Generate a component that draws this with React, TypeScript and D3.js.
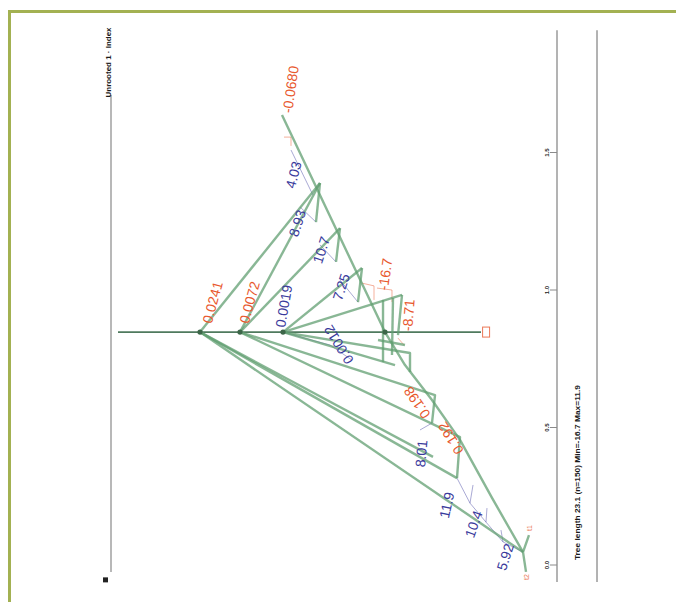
import React from "react";
import * as d3 from "d3";

const W = 676;
const H = 602;

// Axis ticks along the position axis
const posTicks = [0, 0.5, 1, 1.5];
const posTickLabels = ["0.0", "0.5", "1.0", "1.5"];

// Tree nodes: [id, score, position]
const nodes: [string, number, number][] = [
  ["A", 19.96, 0.847],
  ["B", 28.92, 0.847],
  ["C", 38.57, 0.847],
  ["D", 61.43, 0.847],
  ["T", 38.34, 1.636],
  ["P1", 46.86, 1.389],
  ["Q1", 45.96, 1.247],
  ["P2", 51.35, 1.225],
  ["Q2", 50.45, 1.102],
  ["P3", 56.28, 1.08],
  ["Q3", 55.38, 0.956],
  ["P4", 65.25, 0.982],
  ["Q4", 64.35, 0.836],
  ["S1", 65.92, 0.727],
  ["S2", 71.97, 0.6],
  ["S3", 78.25, 0.455],
  ["S4", 85.43, 0.244],
  ["E", 92.38, 0.047],
  ["L1", 67.04, 0.771],
  ["L1d", 67.04, 0.702],
  ["L2", 72.65, 0.618],
  ["L2d", 71.97, 0.516],
  ["L3", 78.25, 0.465],
  ["L3d", 77.58, 0.316],
  ["L4", 63.68, 0.727],
  ["L5", 72.2, 0.393],
  ["Eu", 93.72, 0.109],
  ["Ed", 93.05, -0.025],
  ["K1a", 60.99, 0.964],
  ["K1b", 60.99, 0.738],
  ["K2a", 63.23, 0.971],
  ["K2b", 63.0, 0.764],
  ["K3a", 59.87, 0.818],
  ["K3b", 65.92, 0.8],
  ["b1a", 40.36, 1.509],
  ["b1b", 45.29, 1.345],
  ["b2a", 42.38, 1.302],
  ["b3a", 46.86, 1.164],
  ["b4a", 51.35, 1.036],
  ["b5a", 39.01, 0.844],
  ["b5b", 49.1, 0.8],
  ["b5c", 54.04, 0.745],
  ["b6a", 69.28, 0.491],
  ["c1", 80.49, 0.225],
  ["c2", 84.08, 0.156],
  ["c3", 87.89, 0.084],
  ["c1o", 81.17, 0.291],
  ["c2o", 84.3, 0.207],
  ["c3o", 87.44, 0.127],
  ["o1a", 38.79, 1.556],
  ["o1b", 40.36, 1.556],
  ["o1c", 40.36, 1.524],
  ["o2a", 56.28, 1.025],
  ["o2b", 58.97, 1.015],
  ["o2c", 58.97, 0.964],
  ["o3a", 59.64, 1.007],
  ["o3b", 63.0, 1.0],
  ["o3c", 63.0, 0.956],
  ["o4a", 64.35, 0.825],
  ["o4b", 65.7, 0.8],
];

// Branches (thick), connectors (thin blue) and brackets (thin orange)
const branches: string[][] = [
  ["T", "D", "S1", "S2", "S3", "S4", "E"],
  ["A", "P1"],
  ["B", "P1"],
  ["B", "P2"],
  ["C", "P3"],
  ["C", "P4"],
  ["P1", "Q1"],
  ["P2", "Q2"],
  ["P3", "Q3"],
  ["P4", "Q4"],
  ["C", "L1", "L1d"],
  ["C", "L4"],
  ["B", "L2", "L2d"],
  ["B", "L3", "L3d"],
  ["A", "L5"],
  ["A", "L3d"],
  ["A", "E"],
  ["Eu", "E", "Ed"],
  ["K1a", "K1b"],
  ["K2a", "K2b"],
  ["K3a", "K3b"],
];
const connectors: string[][] = [
  ["b1a", "b1b"],
  ["b2a", "Q1"],
  ["b3a", "Q2"],
  ["b4a", "Q3"],
  ["b5a", "b5b", "b5c"],
  ["b6a", "L2d"],
  ["L3d", "c1", "c2", "c3", "E"],
  ["c1o", "c1"],
  ["c2o", "c2"],
  ["c3o", "c3"],
];
const brackets: string[][] = [
  ["o1a", "o1b", "o1c"],
  ["o2a", "o2b", "o2c"],
  ["o3a", "o3b", "o3c"],
  ["o4a", "o4b"],
];
const hubs = ["A", "B", "C", "D"];

// Branch values: [text, score, position, group]
const branchLabels: [string, number, number, "pos" | "neg"][] = [
  ["-0.0680", 39.5, 1.644, "neg"],
  ["4.03", 40.13, 1.371, "pos"],
  ["8.93", 40.81, 1.196, "pos"],
  ["10.7", 46.19, 1.098, "pos"],
  ["7.25", 50.67, 0.964, "pos"],
  ["0.0019", 37.89, 0.865, "pos"],
  ["0.0072", 29.82, 0.88, "neg"],
  ["0.0241", 21.52, 0.88, "neg"],
  ["-16.7", 60.99, 1.0, "neg"],
  ["-8.71", 66.37, 0.851, "neg"],
  ["0.0012", 53.59, 0.735, "pos"],
  ["0.198", 70.85, 0.538, "neg"],
  ["0.192", 78.25, 0.407, "neg"],
  ["8.01", 69.28, 0.356, "pos"],
  ["11.9", 74.66, 0.171, "pos"],
  ["10.4", 80.27, 0.102, "pos"],
  ["5.92", 87.44, -0.018, "pos"],
];
const labelAngles = [-82, -75, -72, -72, -72, -80, -75, -75, -82, -85, -122, -125, -122, -85, -78, -70, -72];

const tipLabels = ["t1", "t2"];

const hScale = d3.scaleLinear().domain([0, 100]).range([111, 557]);
const vScale = d3.scaleLinear().domain([0, 1.5]).range([565, 152.5]);

const nodeMap = new Map(nodes.map(([id, h, v]) => [id, [h, v] as [number, number]]));
const line = d3
  .line<[number, number]>()
  .x((d) => hScale(d[0]))
  .y((d) => vScale(d[1]));
const pathOf = (ids: string[]) => line(ids.map((id) => nodeMap.get(id)!)) || "";

const COLORS = {
  frame: "#a3b152",
  branch: "#629f72",
  base: "#4f7a5e",
  pos: "#3a3a9c",
  neg: "#e8582e",
  axis: "#8a8a8a",
  ink: "#1a1a1a",
};
const FONT = "'Liberation Sans', Arial, sans-serif";

export default function App() {
  const baseV = nodeMap.get("A")![1];
  const baseY = vScale(baseV);
  const axisX = hScale(100);
  const rightX = hScale(108.97);
  const leftX = hScale(0);
  const eu = nodeMap.get("Eu")!;
  const ed = nodeMap.get("Ed")!;

  return (
    <svg
      width={W}
      height={H}
      viewBox={`0 0 ${W} ${H}`}
      style={{ position: "absolute", left: 0, top: 0, background: "#fff" }}
    >
      <rect x={0} y={0} width={W} height={H} fill="#fff" />
      {/* panel frame */}
      <rect x={9.5} y={11.5} width={W + 20} height={H + 20} fill="none" stroke={COLORS.frame} strokeWidth={3} />

      {/* left reference line and title */}
      <line x1={leftX} x2={leftX} y1={vScale(1.709)} y2={vScale(-0.025)} stroke="#a0a0a0" strokeWidth={1.5} />
      <text
        transform={`translate(${leftX - 3},${vScale(1.7)}) rotate(-90)`}
        fontFamily={FONT}
        fontSize={6.5}
        fontWeight="bold"
        fill={COLORS.ink}
        dominantBaseline="central"
        textLength={70}
        lengthAdjust="spacingAndGlyphs"
      >
        Unrooted 1 · Index
      </text>
      <rect x={leftX - 8} y={vScale(-0.045)} width={5} height={5} fill="#222" />

      {/* baseline */}
      <line
        x1={hScale(1.57)}
        x2={hScale(82.96)}
        y1={baseY}
        y2={baseY}
        stroke={COLORS.base}
        strokeWidth={1.6}
      />
      <rect
        x={hScale(84.1) - 3.5}
        y={baseY - 5}
        width={7}
        height={10}
        fill="#fff"
        stroke={COLORS.neg}
        strokeWidth={1}
        opacity={0.8}
      />

      {/* thin orange brackets */}
      {brackets.map((b, i) => (
        <path key={`o${i}`} d={pathOf(b)} fill="none" stroke={COLORS.neg} strokeWidth={0.8} opacity={0.6} />
      ))}

      {/* thin blue connectors */}
      {connectors.map((b, i) => (
        <path key={`c${i}`} d={pathOf(b)} fill="none" stroke={COLORS.pos} strokeWidth={0.8} opacity={0.55} />
      ))}

      {/* branches */}
      {branches.map((b, i) => (
        <path
          key={`b${i}`}
          d={pathOf(b)}
          fill="none"
          stroke={COLORS.branch}
          strokeWidth={2.4}
          strokeOpacity={0.75}
          strokeLinejoin="round"
        />
      ))}

      {/* hub nodes */}
      {hubs.map((id) => {
        const [h, v] = nodeMap.get(id)!;
        return <circle key={id} cx={hScale(h)} cy={vScale(v)} r={2.6} fill="#3c6648" />;
      })}

      {/* tip labels */}
      <text
        x={hScale(eu[0]) + 3}
        y={vScale(eu[1]) - 4}
        fontFamily={FONT}
        fontSize={7}
        fill={COLORS.neg}
        opacity={0.8}
        transform={`rotate(-90 ${hScale(eu[0]) + 3} ${vScale(eu[1]) - 4})`}
      >
        {tipLabels[0]}
      </text>
      <text
        x={hScale(ed[0]) + 3}
        y={vScale(ed[1]) + 8}
        fontFamily={FONT}
        fontSize={7}
        fill={COLORS.neg}
        opacity={0.8}
        transform={`rotate(-90 ${hScale(ed[0]) + 3} ${vScale(ed[1]) + 8})`}
      >
        {tipLabels[1]}
      </text>

      {/* branch value labels */}
      {branchLabels.map(([t, h, v, g], i) => (
        <text
          key={`l${i}`}
          transform={`translate(${hScale(h)},${vScale(v)}) rotate(${labelAngles[i]})`}
          fontFamily={FONT}
          fontSize={14}
          fill={g === "pos" ? COLORS.pos : COLORS.neg}
          dominantBaseline="central"
        >
          {t}
        </text>
      ))}

      {/* position axis */}
      <line x1={axisX} x2={axisX} y1={vScale(1.945)} y2={vScale(-0.062)} stroke={COLORS.axis} strokeWidth={1.3} />
      {posTicks.map((t, i) => (
        <g key={`t${i}`}>
          <line x1={axisX - 7} x2={axisX} y1={vScale(t)} y2={vScale(t)} stroke={COLORS.axis} strokeWidth={1} />
          <text
            transform={`translate(${axisX - 10},${vScale(t)}) rotate(-90)`}
            fontFamily={FONT}
            fontSize={6}
            fontWeight="bold"
            fill={COLORS.ink}
            textAnchor="middle"
            dominantBaseline="central"
          >
            {posTickLabels[i]}
          </text>
        </g>
      ))}
      <line x1={rightX} x2={rightX} y1={vScale(1.945)} y2={vScale(-0.062)} stroke={COLORS.axis} strokeWidth={1.3} />
      <text
        transform={`translate(${(axisX + rightX) / 2},${vScale(0.018)}) rotate(-90)`}
        fontFamily={FONT}
        fontSize={6.5}
        fontWeight="bold"
        fill={COLORS.ink}
        dominantBaseline="central"
        textLength={175}
        lengthAdjust="spacingAndGlyphs"
      >
        Tree length 23.1 (n=150) Min=-16.7 Max=11.9
      </text>
    </svg>
  );
}
